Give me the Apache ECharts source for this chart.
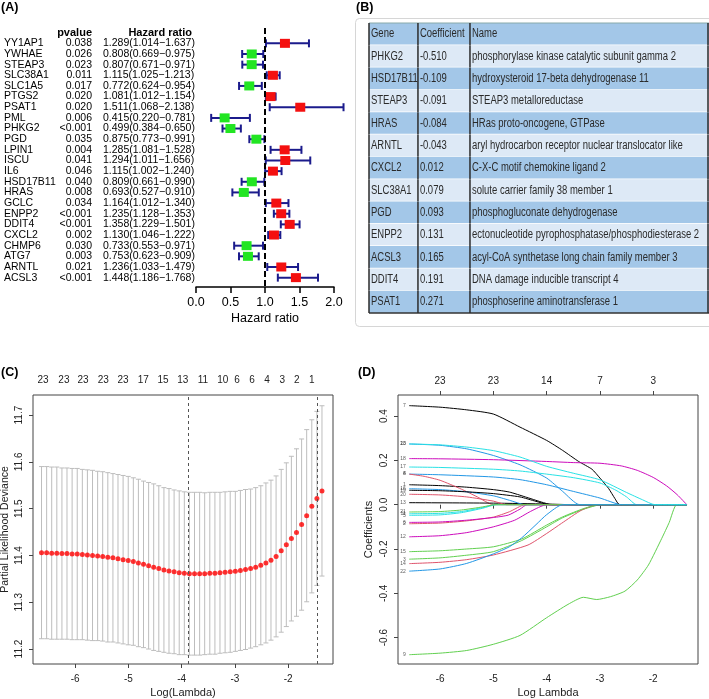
<!DOCTYPE html>
<html><head><meta charset="utf-8">
<script src="https://cdn.jsdelivr.net/npm/echarts@6/dist/echarts.min.js"></script>
<style>html,body{margin:0;padding:0;background:#fff}#c{width:709px;height:699px}</style>
</head><body><div id="c"></div>
<script>
// ---------- Panel A data ----------
const genesA = ['YY1AP1','YWHAE','STEAP3','SLC38A1','SLC1A5','PTGS2','PSAT1','PML','PHKG2','PGD','LPIN1','ISCU','IL6','HSD17B11','HRAS','GCLC','ENPP2','DDIT4','CXCL2','CHMP6','ATG7','ARNTL','ACSL3'];
const pvalA = ['0.038','0.026','0.023','0.011','0.017','0.020','0.020','0.006','<0.001','0.035','0.004','0.041','0.046','0.040','0.008','0.034','<0.001','<0.001','0.002','0.030','0.003','0.021','<0.001'];
const hrA = [1.289,0.808,0.807,1.115,0.772,1.081,1.511,0.415,0.499,0.875,1.285,1.294,1.115,0.809,0.693,1.164,1.235,1.358,1.130,0.733,0.753,1.236,1.448];
const loA = [1.014,0.669,0.671,1.025,0.624,1.012,1.068,0.220,0.384,0.773,1.081,1.011,1.002,0.661,0.527,1.012,1.128,1.229,1.046,0.553,0.623,1.033,1.186];
const hiA = [1.637,0.975,0.971,1.213,0.954,1.154,2.138,0.781,0.650,0.991,1.528,1.656,1.240,0.990,0.910,1.340,1.353,1.501,1.222,0.971,0.909,1.479,1.768];
const refHR = 1;

// ---------- Panel B data ----------
const tableHeader = ['Gene','Coefficient','Name'];
const tableGenes = ['PHKG2','HSD17B11','STEAP3','HRAS','ARNTL','CXCL2','SLC38A1','PGD','ENPP2','ACSL3','DDIT4','PSAT1'];
const tableCoefs = ['-0.510','-0.109','-0.091','-0.084','-0.043','0.012','0.079','0.093','0.131','0.165','0.191','0.271'];
const tableNames = ['phosphorylase kinase catalytic subunit gamma 2','hydroxysteroid 17-beta dehydrogenase 11','STEAP3 metalloreductase','HRas proto-oncogene, GTPase','aryl hydrocarbon receptor nuclear translocator like','C-X-C motif chemokine ligand 2','solute carrier family 38 member 1','phosphogluconate dehydrogenase','ectonucleotide pyrophosphatase/phosphodiesterase 2','acyl-CoA synthetase long chain family member 3','DNA damage inducible transcript 4','phosphoserine aminotransferase 1'];

// ---------- Panel C data ----------
const logLambdaC = [-6.63,-6.534,-6.439,-6.343,-6.247,-6.152,-6.056,-5.96,-5.864,-5.769,
 -5.673,-5.577,-5.482,-5.386,-5.29,-5.195,-5.099,-5.003,-4.907,-4.812,
 -4.716,-4.62,-4.525,-4.429,-4.333,-4.238,-4.142,-4.046,-3.95,-3.855,
 -3.759,-3.663,-3.568,-3.472,-3.376,-3.281,-3.185,-3.089,-2.993,-2.898,
 -2.802,-2.706,-2.611,-2.515,-2.419,-2.324,-2.228,-2.132,-2.036,-1.941,
 -1.845,-1.749,-1.654,-1.558,-1.462,-1.367];
const cvmC = [11.406,11.406,11.405,11.405,11.404,11.404,11.403,11.403,11.402,11.401,
 11.400,11.399,11.398,11.396,11.395,11.393,11.391,11.389,11.387,11.384,
 11.381,11.378,11.375,11.372,11.369,11.367,11.365,11.363,11.362,11.361,
 11.361,11.361,11.361,11.362,11.362,11.363,11.364,11.365,11.366,11.368,
 11.370,11.372,11.375,11.379,11.384,11.390,11.398,11.410,11.423,11.436,
 11.449,11.466,11.485,11.505,11.522,11.538];
const cvsdC = [0.184,0.184,0.184,0.184,0.183,0.183,0.183,0.183,0.182,0.182,
 0.182,0.181,0.181,0.181,0.180,0.180,0.180,0.180,0.179,0.179,
 0.178,0.178,0.178,0.177,0.176,0.176,0.175,0.175,0.174,0.174,
 0.174,0.174,0.173,0.173,0.173,0.172,0.172,0.172,0.171,0.171,
 0.171,0.170,0.170,0.170,0.171,0.171,0.172,0.174,0.175,0.176,
 0.179,0.183,0.184,0.185,0.186,0.182];
const topPosC = [-6.60,-6.21,-5.85,-5.47,-5.10,-4.72,-4.35,-3.98,-3.60,-3.23,-2.96,-2.68,-2.40,-2.11,-1.84,-1.56];
const topCountC = [23,23,23,23,23,17,15,13,11,10,6,6,4,3,2,1];
const lambdaLinesC = [-3.87,-1.46];

// ---------- Panel D data ----------
const pathIds = [1,2,3,4,5,6,7,8,9,10,11,12,13,14,15,16,17,18,19,20,21,22,23];
const pathPoints = [
 [[-6.58,0.090],[-6,0.086],[-5.5,0.079],[-5,0.068],[-4.7,0.057],[-4.4,0.035],[-4.1,0.012],[-3.9,0],[-1.37,0]],
 [[-6.58,-0.086],[-6,-0.083],[-5.5,-0.073],[-5,-0.056],[-4.7,-0.032],[-4.4,0],[-1.37,0]],
 [[-6.58,-0.246],[-6,-0.240],[-5.5,-0.228],[-5,-0.212],[-4.47,-0.162],[-4,-0.1],[-3.7,-0.059],[-3.3,-0.02],[-2.97,0],[-1.37,0]],
 [[-6.58,0.138],[-6,0.135],[-5,0.125],[-4.5,0.113],[-4,0.09],[-3.5,0.06],[-3,0.03],[-2.59,0],[-1.37,0]],
 [[-6.58,-0.048],[-6,-0.046],[-5.6,-0.036],[-5.2,-0.016],[-4.95,0],[-1.37,0]],
 [[-6.58,-0.080],[-6,-0.078],[-5.5,-0.07],[-5,-0.058],[-4.72,-0.047],[-4.5,-0.02],[-4.37,0],[-1.37,0]],
 [[-6.58,0.447],[-6,0.440],[-5.5,0.428],[-5,0.409],[-4.5,0.35],[-4,0.29],[-3.7,0.245],[-3.4,0.195],[-3.15,0.16],[-3,0.12],[-2.84,0.074],[-2.72,0.028],[-2.63,0],[-1.37,0]],
 [[-6.58,0.138],[-6.3,0.128],[-6,0.11],[-5.6,0.07],[-5.3,0.035],[-5,0],[-1.37,0]],
 [[-6.58,-0.677],[-6,-0.670],[-5.5,-0.658],[-5,-0.63],[-4.5,-0.59],[-4,-0.51],[-3.6,-0.45],[-3.31,-0.418],[-3.06,-0.428],[-2.8,-0.415],[-2.53,-0.39],[-2.3,-0.34],[-2.09,-0.272],[-1.84,-0.152],[-1.7,-0.08],[-1.56,0],[-1.37,0]],
 [[-6.58,0.274],[-6,0.268],[-5.5,0.252],[-5,0.222],[-4.5,0.18],[-4,0.12],[-3.7,0.06],[-3.38,0],[-1.37,0]],
 [[-6.58,-0.041],[-6,-0.039],[-5.6,-0.031],[-5.2,-0.013],[-4.97,0],[-1.37,0]],
 [[-6.58,-0.145],[-6,-0.14],[-5.5,-0.126],[-5,-0.1],[-4.6,-0.07],[-4.3,-0.03],[-4.0,0],[-1.37,0]],
 [[-6.58,0.009],[-5,0.007],[-4,0.003],[-3.5,0],[-1.37,0]],
 [[-6.58,-0.266],[-6,-0.26],[-5.5,-0.248],[-5,-0.227],[-4.35,-0.182],[-4,-0.13],[-3.72,-0.084],[-3.34,-0.024],[-3.03,0],[-1.37,0]],
 [[-6.58,-0.212],[-6,-0.208],[-5.5,-0.2],[-5,-0.19],[-4.47,-0.155],[-4,-0.092],[-3.7,-0.055],[-3.3,-0.017],[-3.0,0],[-1.37,0]],
 [[-6.58,0.072],[-6,0.068],[-5.5,0.058],[-5,0.04],[-4.7,0.02],[-4.4,0],[-1.37,0]],
 [[-6.58,0.170],[-6,0.168],[-5,0.16],[-4.5,0.152],[-4,0.138],[-3.5,0.122],[-3,0.098],[-2.7,0.065],[-2.5,0.035],[-2.31,0],[-1.37,0]],
 [[-6.58,0.208],[-6,0.207],[-5,0.203],[-4,0.195],[-3.5,0.19],[-3,0.187],[-2.6,0.175],[-2.3,0.155],[-2,0.123],[-1.75,0.085],[-1.55,0.045],[-1.37,0]],
 [[-6.58,0.065],[-6,0.063],[-5.5,0.058],[-5,0.05],[-4.5,0.035],[-4.2,0.015],[-3.95,0],[-1.37,0]],
 [[-6.58,0.047],[-6,0.044],[-5.5,0.035],[-5,0.016],[-4.75,0],[-1.37,0]],
 [[-6.58,-0.033],[-6,-0.031],[-5.6,-0.024],[-5.2,-0.01],[-4.97,0],[-1.37,0]],
 [[-6.58,-0.30],[-6,-0.29],[-5.5,-0.265],[-5,-0.222],[-4.7,-0.19],[-4.47,-0.15],[-4.2,-0.09],[-4,-0.045],[-3.7,0],[-1.37,0]],
 [[-6.58,0.274],[-6,0.27],[-5.5,0.26],[-5,0.244],[-4.5,0.215],[-4,0.173],[-3.5,0.142],[-3,0.112],[-2.5,0.055],[-2.2,0.022],[-1.97,0],[-1.37,0]]
];
const topPosD = [-6,-5,-4,-3,-2];
const topCountD = [23,23,14,7,3];

// ---------- styling ----------
const SANS = '"Liberation Sans", Arial, sans-serif';
const rPal = ['#000000','#DF536B','#61D04F','#2297E6','#28E2E5','#CD0BBC'];
function txt(x, y, text, font, align, valign, fill) {
  return {type:'text', x:x, y:y, style:{text:text, font:font, fill:fill||'#000',
    textAlign:align||'left', textVerticalAlign:valign||'middle', align:align||'left', verticalAlign:valign||'middle'}};
}

const chart = echarts.init(document.getElementById('c'), null, {renderer:'canvas'});

const series = [];
// A: text columns
series.push({
  type:'custom', xAxisIndex:0, yAxisIndex:0, clip:false, silent:true,
  data: genesA.map((g,i)=>[refHR,i]),
  encode:{x:0,y:1},
  renderItem:function(params, api){
    const i = params.dataIndex;
    const y = api.coord([0, i])[1];
    const f = '10.5px ' + SANS;
    const hrText = hrA[i].toFixed(3)+'('+loA[i].toFixed(3)+'\u2212'+hiA[i].toFixed(3)+')';
    return {type:'group', children:[
      txt(4, y, genesA[i], f, 'left'),
      txt(92, y, pvalA[i], f, 'right'),
      txt(103, y, hrText, f, 'left')
    ]};
  }
});
// A: forest bars
series.push({
  type:'custom', xAxisIndex:0, yAxisIndex:0, clip:false, silent:true,
  data: hrA.map((h,i)=>[h, i, loA[i], hiA[i]]),
  encode:{x:[0,2,3], y:1},
  renderItem:function(params, api){
    const hr = api.value(0), i = api.value(1), lo = api.value(2), hi = api.value(3);
    const pLo = api.coord([lo,i]), pHi = api.coord([hi,i]), pHr = api.coord([hr,i]);
    const c = '#1b1b8c', cap = 4;
    const ls = {stroke:c, lineWidth:2};
    return {type:'group', children:[
      {type:'line', shape:{x1:pLo[0],y1:pLo[1],x2:pHi[0],y2:pHi[1]}, style:ls},
      {type:'line', shape:{x1:pLo[0],y1:pLo[1]-cap,x2:pLo[0],y2:pLo[1]+cap}, style:ls},
      {type:'line', shape:{x1:pHi[0],y1:pHi[1]-cap,x2:pHi[0],y2:pHi[1]+cap}, style:ls},
      {type:'rect', shape:{x:pHr[0]-5,y:pHr[1]-4.5,width:10,height:9}, style:{fill: hr>refHR ? '#f41010' : '#22e522'}}
    ]};
  },
  markLine:{silent:true, symbol:['none','none'], label:{show:false},
    lineStyle:{type:[6,3], color:'#000', width:2}, data:[{xAxis:refHR}]}
});
// B: table
const tableRows = [tableHeader].concat(tableGenes.map((g,i)=>[g, tableCoefs[i], tableNames[i]]));
series.push({
  type:'custom', xAxisIndex:1, yAxisIndex:1, clip:false, silent:true,
  data: tableRows.map((r,i)=>[0,i]),
  encode:{x:0,y:1},
  renderItem:function(params, api){
    const i = params.dataIndex;
    const cs = params.coordSys;
    const bandH = api.size([0,1])[1];
    const yc = api.coord([0,i])[1];
    const y0 = yc - bandH/2, y1 = yc + bandH/2;
    const x0 = cs.x, w = cs.width;
    const cols = [x0, x0 + w*0.144, x0 + w*0.297, x0 + w - 1];
    const fill = i%2===0 ? '#a3c7e8' : '#dde9f6';
    const f = '12px ' + SANS;
    const row = tableRows[i];
    const ch = [
      {type:'rect', shape:{x:x0, y:y0, width:w, height:bandH}, style:{fill:fill}},
      {type:'line', shape:{x1:x0, y1:y1, x2:x0+w, y2:y1}, style:{stroke: i===tableRows.length-1 ? '#333' : '#ffffff', lineWidth:1.5}}
    ];
    if (i===0) ch.push({type:'line', shape:{x1:x0, y1:y0, x2:x0+w, y2:y0}, style:{stroke:'#8aa', lineWidth:1}});
    cols.forEach(cx => ch.push({type:'line', shape:{x1:cx, y1:y0, x2:cx, y2:y1}, style:{stroke:'#2b2b2b', lineWidth:1.5}}));
    row.forEach((t,k) => {
      const el = txt(cols[k]+2, yc, t, f, 'left', 'middle', '#2a2a2a');
      el.scaleX = 0.79;
      ch.push(el);
    });
    return {type:'group', children:ch};
  }
});
// C: error bars
series.push({
  type:'custom', xAxisIndex:2, yAxisIndex:2, silent:true,
  data: logLambdaC.map((x,i)=>[x, cvmC[i]-cvsdC[i], cvmC[i]+cvsdC[i]]),
  encode:{x:0, y:[1,2]},
  renderItem:function(params, api){
    const x = api.value(0);
    const pL = api.coord([x, api.value(1)]), pU = api.coord([x, api.value(2)]);
    const ls = {stroke:'#bdbdbd', lineWidth:1};
    return {type:'group', children:[
      {type:'line', shape:{x1:pL[0],y1:pL[1],x2:pU[0],y2:pU[1]}, style:ls},
      {type:'line', shape:{x1:pL[0]-2.5,y1:pL[1],x2:pL[0]+2.5,y2:pL[1]}, style:ls},
      {type:'line', shape:{x1:pU[0]-2.5,y1:pU[1],x2:pU[0]+2.5,y2:pU[1]}, style:ls}
    ]};
  }
});
// C: points
series.push({
  type:'scatter', xAxisIndex:2, yAxisIndex:2, silent:true,
  data: logLambdaC.map((x,i)=>[x, cvmC[i]]),
  symbol:'circle', symbolSize:5, itemStyle:{color:'#ff0000'},
  markLine:{silent:true, symbol:['none','none'], label:{show:false},
    lineStyle:{type:[3,3], color:'#555', width:1}, data: lambdaLinesC.map(v=>({xAxis:v}))}
});
// C: top labels
series.push({
  type:'custom', xAxisIndex:2, yAxisIndex:2, clip:false, silent:true,
  data: topPosC.map((x,i)=>[x, 11.7, topCountC[i]]),
  encode:{x:0, y:1},
  renderItem:function(params, api){
    const p = api.coord([api.value(0), api.value(1)]);
    return txt(p[0], params.coordSys.y - 15, String(api.value(2)), '10px ' + SANS, 'center', 'middle', '#222');
  }
});
// D: coefficient paths
pathIds.forEach((id,k)=>{
  series.push({
    type:'line', xAxisIndex:3, yAxisIndex:3, silent:true,
    data: pathPoints[k], showSymbol:false, smooth:0.2,
    lineStyle:{color: rPal[(id-1)%6], width:1}, z:2
  });
});
// D: start labels
series.push({
  type:'scatter', xAxisIndex:3, yAxisIndex:3, silent:true,
  data: pathIds.map((id,k)=>({value: pathPoints[k][0], name: String(id)})),
  symbolSize:1, itemStyle:{color:'rgba(0,0,0,0)'},
  label:{show:true, position:'left', distance:3, formatter:'{b}', fontSize:5, color:'#333', fontFamily:SANS}
});

const axisLabelC = {fontSize:10, color:'#222', fontFamily:SANS};
const option = {
  animation:false,
  backgroundColor:'#ffffff',
  grid:[
    {left:196, top:28, width:138, height:259, containLabel:false, outerBoundsMode:'none'},
    {left:369, top:23, width:340, height:290, containLabel:false, outerBoundsMode:'none'},
    {left:33, top:395, width:300, height:269, show:true, borderColor:'#444', borderWidth:1, containLabel:false, outerBoundsMode:'none'},
    {left:398, top:395, width:300, height:269, show:true, borderColor:'#444', borderWidth:1, containLabel:false, outerBoundsMode:'none'}
  ],
  xAxis:[
    {gridIndex:0, type:'value', min:0, max:2, interval:0.5, position:'bottom',
      axisLine:{show:true, onZero:false, lineStyle:{color:'#000', width:1.5}},
      axisTick:{show:true, length:6, lineStyle:{color:'#000', width:1.5}},
      axisLabel:{fontSize:12.5, color:'#000', margin:9, fontFamily:SANS, formatter:v=>v.toFixed(1)},
      splitLine:{show:false},
      name:'Hazard ratio', nameLocation:'middle', nameGap:25, nameTextStyle:{fontSize:12.5, color:'#000', fontFamily:SANS}},
    {gridIndex:1, type:'value', min:0, max:1, show:false},
    {gridIndex:2, type:'value', min:-6.79, max:-1.16, minInterval:1, maxInterval:1, position:'bottom',
      axisLine:{show:false}, axisTick:{show:true, length:4, lineStyle:{color:'#444'}},
      axisLabel:Object.assign({margin:10, showMinLabel:false, showMaxLabel:false, formatter:v=>String(v)}, axisLabelC),
      splitLine:{show:false},
      name:'Log(Lambda)', nameLocation:'middle', nameGap:23, nameTextStyle:{fontSize:11, color:'#222', fontFamily:SANS}},
    {gridIndex:3, type:'value', min:-6.79, max:-1.16, minInterval:1, maxInterval:1, position:'bottom',
      axisLine:{show:false}, axisTick:{show:true, length:4, lineStyle:{color:'#444'}},
      axisLabel:Object.assign({margin:10, showMinLabel:false, showMaxLabel:false, formatter:v=>String(v)}, axisLabelC),
      splitLine:{show:false},
      name:'Log Lambda', nameLocation:'middle', nameGap:23, nameTextStyle:{fontSize:11, color:'#222', fontFamily:SANS}},
    {gridIndex:3, type:'value', min:-6.79, max:-1.16, minInterval:1, maxInterval:1, position:'top',
      axisLine:{show:false}, axisTick:{show:true, length:4, lineStyle:{color:'#444'}},
      axisLabel:Object.assign({margin:9, showMinLabel:false, showMaxLabel:false, formatter:function(v){
        const k = topPosD.findIndex(p=>Math.abs(p-v)<1e-6); return k<0 ? '' : String(topCountD[k]);}}, axisLabelC),
      splitLine:{show:false}}
  ],
  yAxis:[
    {gridIndex:0, type:'value', inverse:true, min:-1.44, max:22.88, show:false},
    {gridIndex:1, type:'category', inverse:true, data:tableRows.map((r,i)=>String(i)), show:false},
    {gridIndex:2, type:'value', min:11.168, max:11.743, minInterval:0.1, maxInterval:0.1,
      axisLine:{show:false}, axisTick:{show:true, length:4, lineStyle:{color:'#444'}},
      axisLabel:Object.assign({margin:9, rotate:90, showMinLabel:false, showMaxLabel:false, formatter:v=>v.toFixed(1)}, axisLabelC),
      splitLine:{show:false},
      name:'Partial Likelihood Deviance', nameLocation:'middle', nameGap:22, nameTextStyle:{fontSize:10.5, color:'#222', fontFamily:SANS}},
    {gridIndex:3, type:'value', min:-0.719, max:0.495, minInterval:0.2, maxInterval:0.2,
      axisLine:{show:false}, axisTick:{show:true, length:4, lineStyle:{color:'#444'}},
      axisLabel:Object.assign({margin:9, rotate:90, showMinLabel:false, showMaxLabel:false, formatter:v=>v.toFixed(1)}, axisLabelC),
      splitLine:{show:false},
      name:'Coefficients', nameLocation:'middle', nameGap:24, nameTextStyle:{fontSize:11, color:'#222', fontFamily:SANS}}
  ],
  graphic:[
    {type:'rect', shape:{x:355.5, y:18.5, width:400, height:308, r:4}, style:{fill:'none', stroke:'#d6d6d6', lineWidth:1}, z:-1},
    txt(1, 8, '(A)', 'bold 12.5px ' + SANS),
    txt(356, 8, '(B)', 'bold 12.5px ' + SANS),
    txt(1, 373, '(C)', 'bold 12.5px ' + SANS),
    txt(358, 373, '(D)', 'bold 12.5px ' + SANS),
    txt(92, 33, 'pvalue', 'bold 11px ' + SANS, 'right'),
    txt(192, 33, 'Hazard ratio', 'bold 11px ' + SANS, 'right')
  ],
  series: series
};
chart.setOption(option);
</script>
</body></html>
